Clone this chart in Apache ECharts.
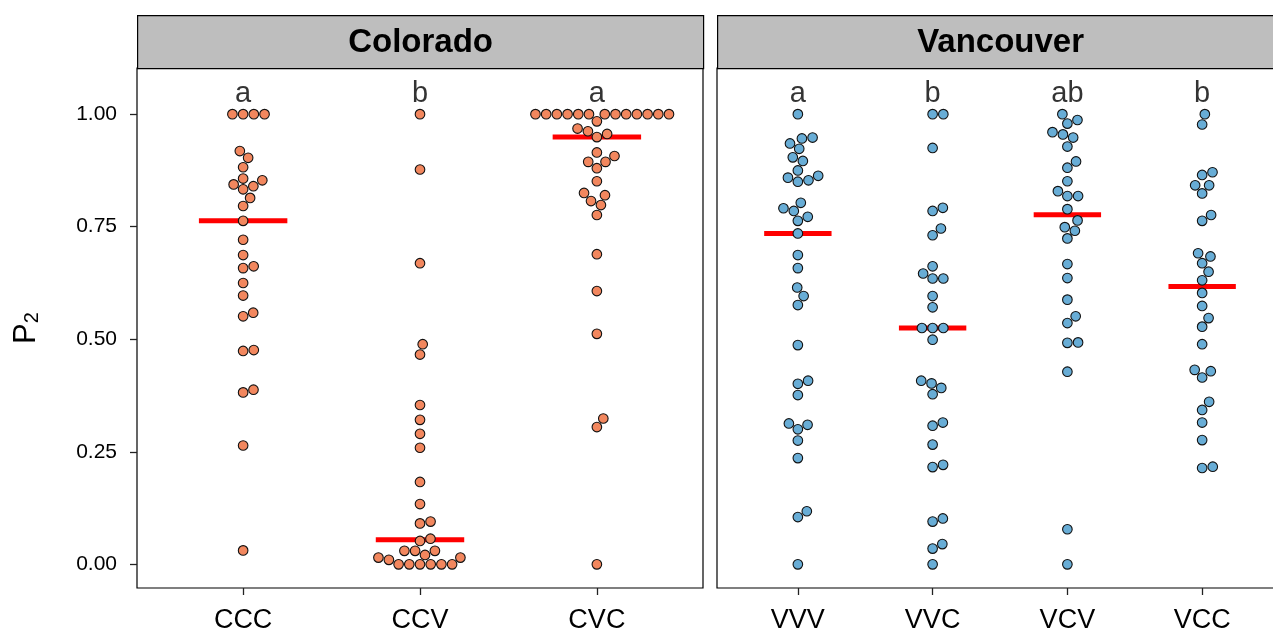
<!DOCTYPE html>
<html>
<head>
<meta charset="utf-8">
<title>P2 by cross type</title>
<script src="https://cdn.jsdelivr.net/npm/echarts@6/dist/echarts.min.js"></script>
<style>
  html, body { margin: 0; padding: 0; background: #fff; }
  #chart { width: 1273px; height: 632px; }
</style>
</head>
<body>
<div id="chart"></div>
<script>
// Facet strips and groups
const stripNames = ['Colorado', 'Vancouver'];
const coloradoGroups = ['CCC', 'CCV', 'CVC'];
const vancouverGroups = ['VVV', 'VVC', 'VCV', 'VCC'];
const coloradoLetters = ['a', 'b', 'a'];
const vancouverLetters = ['a', 'b', 'ab', 'b'];
const yTicks = [0, 0.25, 0.5, 0.75, 1];
const letterLevel = 1.05;

// Per-individual P2 values
const CCC = [1, 1, 1, 1, 0.918, 0.903, 0.882, 0.857, 0.853, 0.844, 0.840, 0.833,
  0.814, 0.796, 0.763, 0.721, 0.687, 0.658, 0.662, 0.625, 0.597, 0.551, 0.559,
  0.474, 0.476, 0.382, 0.388, 0.264, 0.031];
const CCV = [1, 0.877, 0.669, 0.489, 0.466, 0.354, 0.321, 0.290, 0.259, 0.183,
  0.134, 0.091, 0.095, 0.057, 0.052, 0.030, 0.030, 0.030, 0.021, 0.015, 0.010,
  0.015, 0, 0, 0, 0, 0, 0];
const CVC = [1, 1, 1, 1, 1, 1, 1, 1, 1, 1, 1, 1, 1, 0.984, 0.968, 0.962, 0.956,
  0.949, 0.915, 0.907, 0.894, 0.894, 0.880, 0.851, 0.825, 0.820, 0.807, 0.798,
  0.776, 0.689, 0.607, 0.512, 0.324, 0.305, 0];
const VVV = [1, 0.948, 0.946, 0.935, 0.923, 0.904, 0.896, 0.875, 0.863, 0.859,
  0.853, 0.850, 0.803, 0.791, 0.785, 0.772, 0.763, 0.735, 0.687, 0.658, 0.615,
  0.596, 0.576, 0.487, 0.401, 0.408, 0.376, 0.313, 0.310, 0.300, 0.275, 0.236,
  0.105, 0.118, 0];
const VVC = [1, 1, 0.925, 0.785, 0.792, 0.731, 0.746, 0.662, 0.646, 0.635, 0.635,
  0.596, 0.571, 0.525, 0.525, 0.525, 0.499, 0.408, 0.402, 0.392, 0.378, 0.308,
  0.315, 0.266, 0.216, 0.221, 0.095, 0.102, 0.035, 0.045, 0];
const VCV = [1, 0.987, 0.979, 0.960, 0.955, 0.948, 0.928, 0.895, 0.881, 0.851,
  0.829, 0.818, 0.818, 0.789, 0.764, 0.749, 0.741, 0.724, 0.667, 0.636, 0.588,
  0.551, 0.536, 0.492, 0.493, 0.428, 0.078, 0];
const VCC = [1, 0.977, 0.871, 0.865, 0.842, 0.842, 0.824, 0.776, 0.763, 0.691,
  0.684, 0.669, 0.650, 0.631, 0.603, 0.574, 0.547, 0.528, 0.489, 0.432, 0.429,
  0.415, 0.361, 0.343, 0.315, 0.276, 0.214, 0.217];

const coloradoValues = [CCC, CCV, CVC];
const vancouverValues = [VVV, VVC, VCV, VCC];

// Layout
const PANEL_TOP = 68, PANEL_H = 520, PANEL_W = 566;
const PANEL_LEFT = [137, 717];
const STRIP_TOP = 15;
const Y_MIN = -0.0525, Y_MAX = 1.1025;
const DOT = 9.6, DOT_BORDER = 1.1, SWARM_GAP = 10.7;
const FONT = '"Liberation Sans", Arial, Helvetica, sans-serif';
const COLORS = ['#F2875E', '#68ADD6'];

function median(arr) {
  const s = arr.slice().sort((a, b) => a - b);
  const n = s.length;
  return n % 2 ? s[(n - 1) / 2] : (s[n / 2 - 1] + s[n / 2]) / 2;
}

// Beeswarm: place points in ascending order, each as close to the centre as possible
function swarmOffsets(pxY, d) {
  const order = pxY.map((_, i) => i).sort((a, b) => pxY[a] - pxY[b]);
  const placed = [];
  const out = new Array(pxY.length).fill(0);
  for (const i of order) {
    const y = pxY[i];
    const near = placed.filter(p => Math.abs(p.y - y) < d);
    const cands = [0];
    for (const p of near) {
      const dx = Math.sqrt(d * d - (p.y - y) * (p.y - y));
      cands.push(p.x + dx, p.x - dx);
    }
    cands.sort((a, b) => (Math.abs(a) - Math.abs(b)) || (b - a));
    let x = 0;
    for (const c of cands) {
      if (near.every(p => (p.x - c) ** 2 + (p.y - y) ** 2 >= d * d - 1e-6)) { x = c; break; }
    }
    placed.push({ x, y });
    out[i] = x;
  }
  return out;
}

const pxPerY = PANEL_H / (Y_MAX - Y_MIN);

function panelSeries(panelIdx, groups, values, letters) {
  const xMax = groups.length + 0.6;
  const pxPerX = PANEL_W / (xMax - 0.4);
  const pts = [];
  const series = [];
  values.forEach((vals, g) => {
    const offs = swarmOffsets(vals.map(v => v * pxPerY), SWARM_GAP);
    vals.forEach((v, k) => pts.push([g + 1 + offs[k] / pxPerX, v]));
    const m = median(vals);
    series.push({
      type: 'line', xAxisIndex: panelIdx, yAxisIndex: panelIdx,
      data: [[g + 1 - 0.25, m], [g + 1 + 0.25, m]],
      symbol: 'none', silent: true, z: 2,
      lineStyle: { color: '#ff0000', width: 5, cap: 'butt' }
    });
  });
  series.push({
    type: 'scatter', xAxisIndex: panelIdx, yAxisIndex: panelIdx,
    data: pts, symbol: 'circle', symbolSize: DOT, z: 3,
    itemStyle: { color: COLORS[panelIdx], borderColor: '#111', borderWidth: DOT_BORDER, opacity: 1 }
  });
  series.push({
    type: 'scatter', xAxisIndex: panelIdx, yAxisIndex: panelIdx,
    data: letters.map((t, g) => ({ value: [g + 1, letterLevel], name: t })),
    symbolSize: 0, z: 4, silent: true,
    label: {
      show: true, position: 'inside', offset: [0, 2], formatter: p => p.name,
      color: '#000', fontFamily: FONT, fontSize: 29
    }
  });
  return series;
}

function xAxisFor(panelIdx, groups) {
  const ticks = groups.map((_, i) => i + 1);
  return {
    type: 'value', gridIndex: panelIdx, min: 0.4, max: groups.length + 0.6,
    position: 'bottom',
    splitLine: { show: false },
    axisLine: { show: false, onZero: false },
    axisTick: { show: true, length: 7, customValues: ticks, lineStyle: { color: '#222', width: 1.3 } },
    axisLabel: {
      show: true, customValues: ticks, margin: 19,
      formatter: v => groups[Math.round(v) - 1] || '',
      color: '#000', fontFamily: FONT, fontSize: 27
    }
  };
}

function yAxisFor(panelIdx) {
  const left = panelIdx === 0;
  return {
    type: 'value', gridIndex: panelIdx, min: Y_MIN, max: Y_MAX,
    position: 'left',
    splitLine: { show: false },
    axisLine: { show: false, onZero: false },
    axisTick: { show: left, length: 7, customValues: yTicks, lineStyle: { color: '#222', width: 1.3 } },
    axisLabel: {
      show: left, customValues: yTicks, margin: 20,
      formatter: v => v.toFixed(2),
      color: '#000', fontFamily: FONT, fontSize: 21
    },
    name: left ? '{p|P}{s|2}' : '',
    nameLocation: 'middle', nameRotate: 90, nameGap: 95,
    nameTextStyle: {
      fontFamily: FONT, color: '#000',
      rich: {
        p: { fontSize: 31, fontFamily: FONT, color: '#000', verticalAlign: 'bottom', lineHeight: 36 },
        s: { fontSize: 20, fontFamily: FONT, color: '#000', verticalAlign: 'bottom', lineHeight: 24 }
      }
    }
  };
}

const chart = echarts.init(document.getElementById('chart'), null, { renderer: 'canvas' });

const grids = PANEL_LEFT.map(l => ({
  left: l, top: PANEL_TOP, width: PANEL_W, height: PANEL_H,
  outerBoundsMode: 'none',
  show: true, borderColor: '#000', borderWidth: 1.2, backgroundColor: '#fff', containLabel: false
}));

const strips = stripNames.map((name, i) => ({
  type: 'group', left: PANEL_LEFT[i], top: STRIP_TOP,
  children: [
    { type: 'rect', shape: { x: 0, y: 0, width: PANEL_W, height: PANEL_TOP - STRIP_TOP },
      style: { fill: '#BEBEBE', stroke: '#000', lineWidth: 1.2 } },
    { type: 'text', x: PANEL_W / 2, y: (PANEL_TOP - STRIP_TOP) / 2 + 1,
      style: { text: name, fill: '#000', font: 'bold 33px ' + FONT, align: 'center', verticalAlign: 'middle' } }
  ]
}));

chart.setOption({
  backgroundColor: '#fff',
  animation: false,
  grid: grids,
  xAxis: [xAxisFor(0, coloradoGroups), xAxisFor(1, vancouverGroups)],
  yAxis: [yAxisFor(0), yAxisFor(1)],
  graphic: strips,
  series: [
    ...panelSeries(0, coloradoGroups, coloradoValues, coloradoLetters),
    ...panelSeries(1, vancouverGroups, vancouverValues, vancouverLetters)
  ]
});
</script>
</body>
</html>
